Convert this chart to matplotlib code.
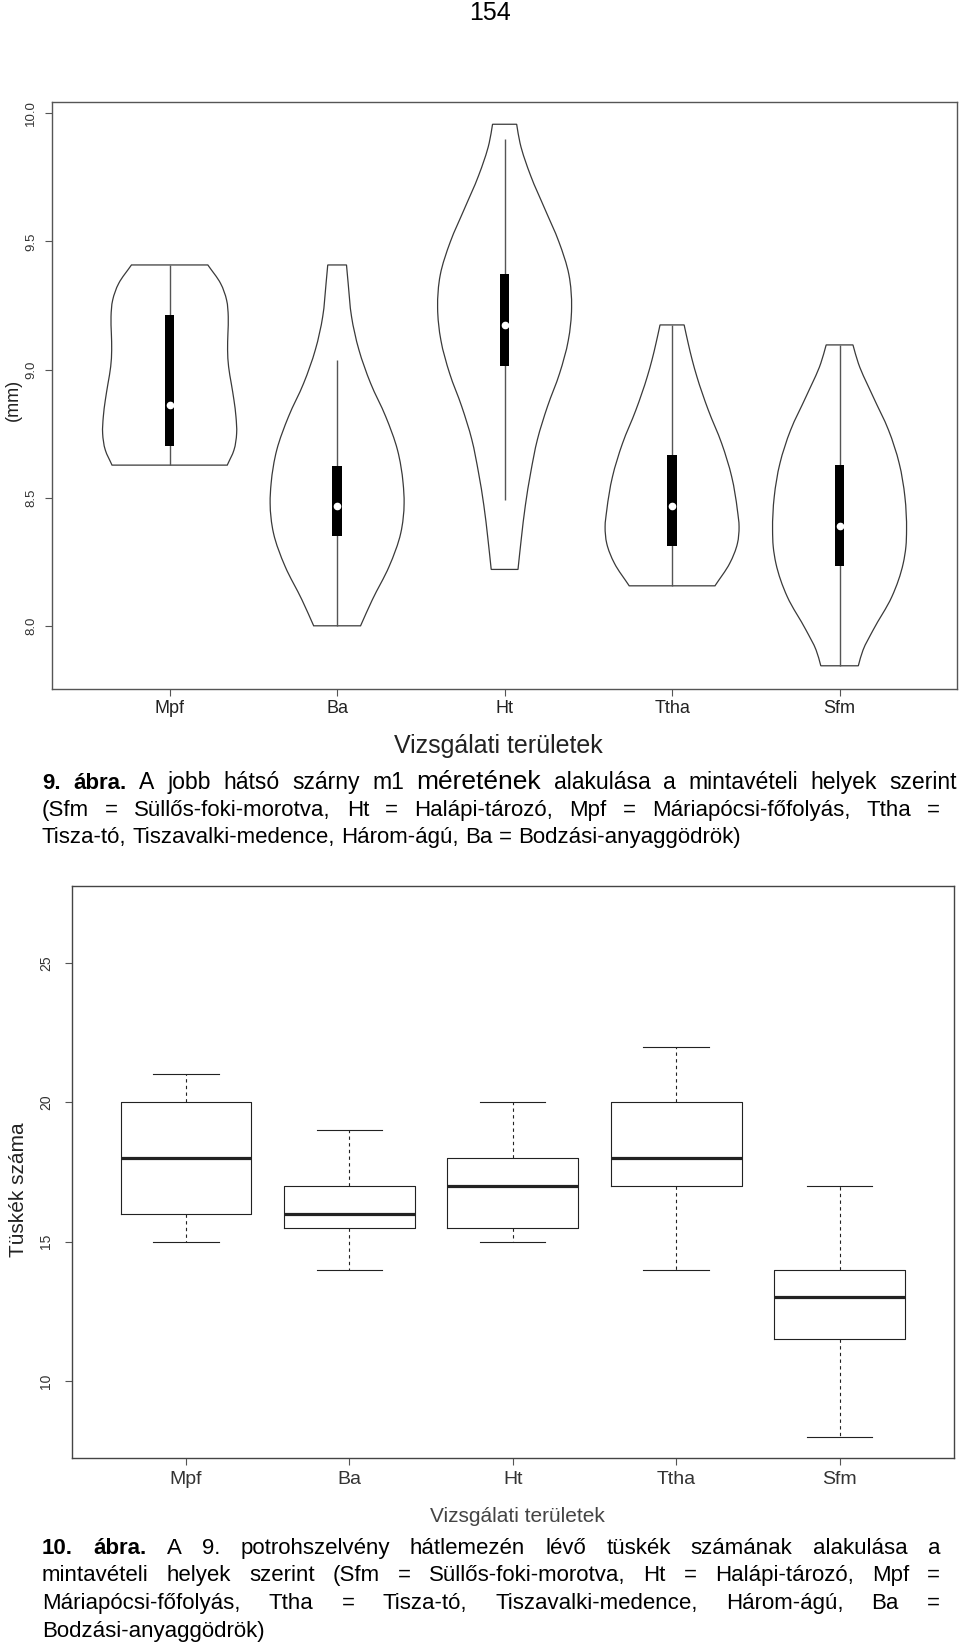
import matplotlib
matplotlib.use('Agg')
import matplotlib.pyplot as plt
from matplotlib.path import Path
from matplotlib.patches import PathPatch
import numpy as np

plt.rcParams['font.family'] = ['Liberation Sans', 'DejaVu Sans']

W, H = 960, 1644

sites = ['Mpf', 'Ba', 'Ht', 'Ttha', 'Sfm']

# ---------------- Figure 9: violin plot (mm) ----------------
vio_min = [8.627, 8.000, 8.220, 8.156, 7.844]
vio_max = [9.408, 9.408, 9.957, 9.174, 9.096]
vio_q1 = [8.703, 8.350, 9.013, 8.311, 8.233]
vio_q3 = [9.212, 8.624, 9.371, 8.666, 8.627]
vio_med = [8.860, 8.468, 9.172, 8.467, 8.390]
vio_wlo = [8.627, 8.000, 8.490, 8.156, 7.844]
vio_whi = [9.408, 9.037, 9.898, 9.174, 9.096]

# violin outline: relative half-width at relative height
# (0 = lowest value, 1 = highest value)
mpf_t = [0.0, 0.075, 0.158, 0.242, 0.325, 0.408, 0.492, 0.575, 0.658, 0.742, 0.825, 0.908, 1.0]
mpf_w = [0.86, 0.96, 1.00, 0.99, 0.96, 0.92, 0.88, 0.865, 0.87, 0.875, 0.85, 0.76, 0.57]
ba_t = [0.0, 0.072, 0.164, 0.257, 0.340, 0.395, 0.488, 0.580, 0.672, 0.765, 0.857, 0.949, 1.0]
ba_w = [0.35, 0.525, 0.775, 0.95, 1.00, 0.985, 0.90, 0.725, 0.50, 0.325, 0.215, 0.165, 0.14]
ht_t = [0.0, 0.070, 0.144, 0.218, 0.292, 0.366, 0.440, 0.514, 0.588, 0.662, 0.736, 0.810, 0.884, 0.958, 1.0]
ht_w = [0.20, 0.25, 0.31, 0.39, 0.49, 0.64, 0.82, 0.95, 1.00, 0.96, 0.81, 0.60, 0.39, 0.23, 0.18]
ttha_t = [0.0, 0.086, 0.162, 0.226, 0.290, 0.418, 0.546, 0.674, 0.802, 0.866, 0.930, 1.0]
ttha_w = [0.64, 0.86, 0.975, 1.00, 0.975, 0.89, 0.74, 0.54, 0.37, 0.30, 0.24, 0.18]
sfm_t = [0.0, 0.049, 0.111, 0.215, 0.319, 0.371, 0.423, 0.527, 0.631, 0.735, 0.839, 0.943, 1.0]
sfm_w = [0.28, 0.35, 0.50, 0.78, 0.95, 0.99, 1.00, 0.975, 0.89, 0.73, 0.50, 0.28, 0.20]

prof_t = [mpf_t, ba_t, ht_t, ttha_t, sfm_t]
prof_w = [mpf_w, ba_w, ht_w, ttha_w, sfm_w]

# ---------------- Figure 10: box plot (spine count) ----------------
box_wlo = [15, 14, 15, 14, 8]
box_q1 = [16, 15.5, 15.5, 17, 11.5]
box_med = [18, 16, 17, 18, 13]
box_q3 = [20, 17, 18, 20, 14]
box_whi = [21, 19, 20, 22, 17]

top_yticks = [8.0, 8.5, 9.0, 9.5, 10.0]
bot_yticks = [10, 15, 20, 25]

fig = plt.figure(figsize=(W / 100, H / 100), dpi=100)
renderer = fig.canvas.get_renderer()


def ax_rect(l, t, r, b):
    return [l / W, 1 - b / H, (r - l) / W, (b - t) / H]


def hermite_side(y, w, sign, pos):
    """Bezier path (list of verts, codes) for x = pos + sign*w(y), smooth in y."""
    y = np.asarray(y, float)
    w = np.asarray(w, float)
    n = len(y)
    h = np.diff(y)
    d = np.diff(w) / h
    m = np.zeros(n)
    m[0] = d[0]
    m[-1] = d[-1]
    for i in range(1, n - 1):
        m[i] = (d[i - 1] * h[i] + d[i] * h[i - 1]) / (h[i - 1] + h[i])
    verts, codes = [], []
    for i in range(n - 1):
        c1 = (pos + sign * (w[i] + m[i] * h[i] / 3), y[i] + h[i] / 3)
        c2 = (pos + sign * (w[i + 1] - m[i + 1] * h[i] / 3), y[i + 1] - h[i] / 3)
        p2 = (pos + sign * w[i + 1], y[i + 1])
        verts += [c1, c2, p2]
        codes += [Path.CURVE4] * 3
    return verts, codes


# ---------- top axes ----------
ax1 = fig.add_axes(ax_rect(52.4, 101.7, 956.8, 688.6))
ax1.set_xlim(0.3, 5.7)
ax1.set_ylim(7.755, 10.045)
halfw = 0.4
for i in range(5):
    pos = i + 1
    t = np.array(prof_t[i])
    w = np.array(prof_w[i]) * halfw
    y = vio_min[i] + t * (vio_max[i] - vio_min[i])
    verts = [(pos + w[0], y[0])]
    codes = [Path.MOVETO]
    v, c = hermite_side(y, w, +1, pos)
    verts += v; codes += c
    verts.append((pos - w[-1], y[-1])); codes.append(Path.LINETO)
    v, c = hermite_side(y[::-1], w[::-1], -1, pos)
    verts += v; codes += c
    verts.append((pos + w[0], y[0])); codes.append(Path.CLOSEPOLY)
    ax1.add_patch(PathPatch(Path(np.array(verts), codes), facecolor='white',
                            edgecolor='#3a3a3a', lw=0.9, zorder=2))
    ax1.plot([pos, pos], [vio_wlo[i], vio_whi[i]], color='#555555', lw=1.0, zorder=3,
             solid_capstyle='butt')
    ax1.bar(pos, vio_q3[i] - vio_q1[i], bottom=vio_q1[i], width=0.056,
            color='black', zorder=4)
    ax1.plot(pos, vio_med[i], 'o', color='white', markersize=4.5, mec='white', zorder=5)

ax1.set_xticks(range(1, 6))
ax1.set_xticklabels(sites, fontsize=13, color='#222222')
ax1.set_yticks(top_yticks)
ax1.set_yticklabels(['%.1f' % v for v in top_yticks], fontsize=9.5, color='#333333',
                    rotation=90, va='center')
ax1.tick_params(axis='x', length=5, width=0.8, color='#555555', pad=3.5)
ax1.tick_params(axis='y', length=5, width=0.8, color='#555555', pad=6)
for s in ax1.spines.values():
    s.set_color('#555555')
    s.set_linewidth(1.0)

# ---------- bottom axes ----------
ax2 = fig.add_axes(ax_rect(71.5, 886, 954, 1458))
stats = []
for i in range(5):
    stats.append(dict(med=box_med[i], q1=box_q1[i], q3=box_q3[i],
                      whislo=box_wlo[i], whishi=box_whi[i], fliers=[]))
ax2.bxp(stats, positions=range(1, 6), widths=0.8, capwidths=0.4,
        showfliers=False, patch_artist=False,
        boxprops=dict(color='#222222', lw=0.8),
        whiskerprops=dict(color='#222222', lw=0.8, linestyle=(0, (3, 3))),
        capprops=dict(color='#222222', lw=0.8),
        medianprops=dict(color='#222222', lw=2.3, solid_capstyle='butt'))
ax2.set_xlim(0.3, 5.7)
ax2.set_ylim(7.24, 27.76)
ax2.set_xticks(range(1, 6))
ax2.set_xticklabels(sites, fontsize=14, color='#333333')
ax2.set_yticks(bot_yticks)
ax2.set_yticklabels([str(v) for v in bot_yticks], fontsize=10, color='#333333',
                    rotation=90, va='center')
ax2.tick_params(axis='x', length=5, width=0.8, color='#555555', pad=4.5)
ax2.tick_params(axis='y', length=5, width=0.8, color='#555555', pad=8)
for s in ax2.spines.values():
    s.set_color('#444444')
    s.set_linewidth(1.0)

# ---------- axis titles & page number ----------
def ftext(x, y, s, **kw):
    return fig.text(x / W, 1 - y / H, s, **kw)

ftext(490, 13, '154', fontsize=18, ha='center', va='center', color='black')
ftext(13, 400, '(mm)', fontsize=13, rotation=90, ha='center', va='center', color='#222222')
ftext(498, 746, 'Vizsgálati területek', fontsize=18, ha='center', va='center', color='#222222')
ftext(19, 1190, 'Tüskék száma', fontsize=15, rotation=90, ha='center', va='center', color='#222222')
ftext(517, 1516, 'Vizsgálati területek', fontsize=15, ha='center', va='center', color='#444444')


# ---------- captions (word-placed, optionally justified) ----------
def place_line(runs, x0, ybase, x1=None):
    words = []
    for text, props in runs:
        for wd in text.split(' '):
            if wd:
                words.append((wd, props))
    arts, widths = [], []
    for wd, props in words:
        t = fig.text(0, 1 - ybase / H, wd, ha='left', va='baseline', color='black', **props)
        widths.append(t.get_window_extent(renderer).width)
        arts.append(t)
    if x1 is not None and len(words) > 1:
        gap = (x1 - x0 - sum(widths)) / (len(words) - 1)
    else:
        gap = 0.278 * words[0][1].get('fontsize', 16) * 100 / 72
    x = x0
    for t, wdt in zip(arts, widths):
        t.set_x(x / W)
        x += wdt + gap


N = dict(fontsize=16)
N1 = dict(fontsize=16.6)
B = dict(fontsize=16, fontweight='bold')
L = dict(fontsize=19)

place_line([('9. ábra.', B), ('A jobb hátsó szárny m1', N1), ('méretének', L),
            ('alakulása a mintavételi helyek szerint', N1)], 42, 789, 957)
place_line([('(Sfm = Süllős-foki-morotva, Ht = Halápi-tározó, Mpf = Máriapócsi-főfolyás, Ttha =', N)],
           42, 816, 940)
place_line([('Tisza-tó, Tiszavalki-medence, Három-ágú, Ba = Bodzási-anyaggödrök)', N)], 42, 843)

place_line([('10. ábra.', B), ('A 9. potrohszelvény hátlemezén lévő tüskék számának alakulása a', N)],
           42, 1554, 940)
place_line([('mintavételi helyek szerint (Sfm = Süllős-foki-morotva, Ht = Halápi-tározó, Mpf =', N)],
           42, 1581, 940)
place_line([('Máriapócsi-főfolyás, Ttha = Tisza-tó, Tiszavalki-medence, Három-ágú, Ba =', N)],
           42, 1609, 940)
place_line([('Bodzási-anyaggödrök)', N)], 42, 1637)

fig.savefig('out.png', dpi=100)
